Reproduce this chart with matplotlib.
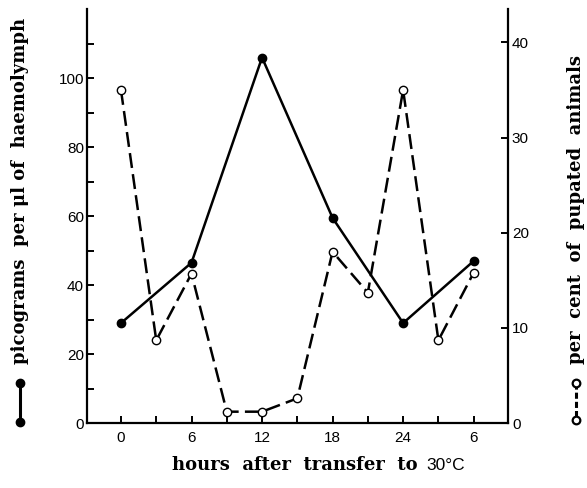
import numpy as np
import matplotlib
matplotlib.use("Agg")
import matplotlib.pyplot as plt
from matplotlib.lines import Line2D

# hormone titre (filled circles, left axis)
hours_titre = [0, 6, 12, 18, 24, 30]
titre = [29, 46.5, 106, 59.5, 29, 47]

# pupation (open circles, right axis)
hours_pup = [0, 3, 6, 9, 12, 15, 18, 21, 24, 27, 30]
pupated = [35, 8.7, 15.7, 1.2, 1.2, 2.6, 18, 13.7, 35, 8.7, 15.8]

xticks = [0, 6, 12, 18, 24, 30]
xticklabels = ["0", "6", "12", "18", "24", "6"]

plt.rcParams["font.family"] = ["Liberation Sans", "DejaVu Sans"]
serif = dict(family="DejaVu Serif", fontweight="bold", fontsize=13)

fig = plt.figure(figsize=(5.87, 4.88), dpi=100)
ax = fig.add_axes([0.148, 0.133, 0.717, 0.848])
ax2 = ax.twinx()

ax.plot(hours_titre, titre, color="black", lw=1.8, marker="o", ms=6,
        mfc="black", mec="black", zorder=2)
ax2.plot(hours_pup, pupated, color="black", lw=1.8, ls=(0, (6, 2.5)),
         marker="o", ms=6, mfc="white", mec="black", mew=1.0, zorder=3)

ax.set_xlim(-2.9, 32.9)
ax.set_ylim(0, 120)
ax2.set_ylim(0, 120 / 2.76)

ax.set_xticks(xticks)
ax.set_xticklabels(xticklabels)
ax.set_xticks(np.arange(-0, 33, 3), minor=True)
ax.set_yticks(np.arange(0, 101, 20))
ax.set_yticks(np.arange(0, 111, 10), minor=True)
ax2.set_yticks(np.arange(0, 41, 10))

for a in (ax, ax2):
    a.spines["top"].set_visible(False)
    for s in ("left", "right", "bottom"):
        a.spines[s].set_linewidth(1.6)
ax.spines["right"].set_visible(False)
ax2.spines["left"].set_visible(False)
ax2.spines["bottom"].set_visible(False)

ax.tick_params(axis="both", which="both", direction="in", width=1.4,
               labelsize=11, length=5)
ax.tick_params(axis="y", pad=2)
ax.tick_params(axis="x", pad=6)
ax2.tick_params(axis="y", direction="in", width=1.4, length=5,
                labelsize=11, pad=3)

# x title: serif words + sans "30°C"
fig.text(0.712, 0.036, "hours  after  transfer  to", ha="right", va="baseline",
         **serif)
fig.text(0.727, 0.036, "30°C", ha="left", va="baseline", fontsize=12.5)

fig.text(0.034, 0.609, "picograms  per \u03bcl of  haemolymph", rotation=90,
         ha="center", va="center", **serif)
fig.text(0.982, 0.57, "per  cent  of  pupated  animals", rotation=90,
         ha="center", va="center", **serif)

# key symbols next to the axis titles
fig.add_artist(Line2D([0.034, 0.034], [0.215, 0.135], color="black", lw=2.2,
                      marker="o", ms=6, mfc="black", transform=fig.transFigure))
fig.add_artist(Line2D([0.982, 0.982], [0.215, 0.14], color="black", lw=2.2,
                      ls=(0, (2, 1)), marker="o", ms=5.5, mfc="white",
                      mew=1.6, transform=fig.transFigure))

fig.savefig("out.png", dpi=100)
